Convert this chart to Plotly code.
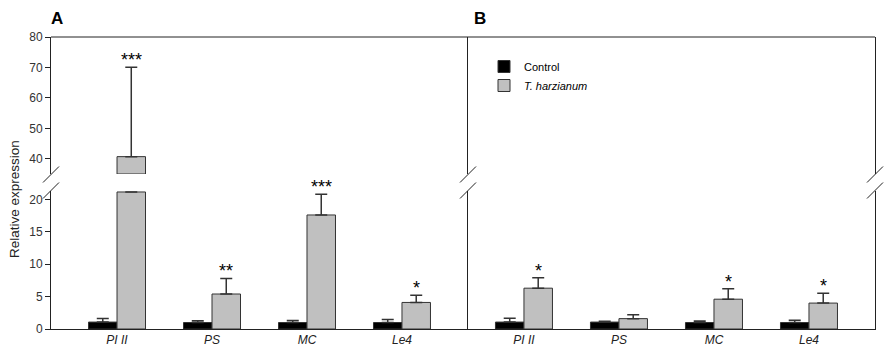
import plotly.graph_objects as go

# ---------------- data ----------------
genes = ["PI II", "PS", "MC", "Le4"]
tick_labels = ["<i>PI II</i>", "<i>PS</i>", "<i>MC</i>", "<i>Le4</i>"]

a_control = [1.07, 1.0, 1.0, 1.0]
a_control_err = [0.55, 0.27, 0.3, 0.45]
a_treat = [40.7, 5.4, 17.6, 4.1]
a_treat_err = [29.4, 2.4, 3.2, 1.1]
a_signif = ["***", "**", "***", "*"]

b_control = [1.07, 1.07, 1.0, 1.0]
b_control_err = [0.6, 0.13, 0.25, 0.35]
b_treat = [6.3, 1.6, 4.6, 4.0]
b_treat_err = [1.6, 0.6, 1.6, 1.5]
b_signif = ["*", "", "*", "*"]

y_lower_ticks = [0, 5, 10, 15, 20]
y_upper_ticks = [40, 50, 60, 70, 80]

# ---------------- layout constants ----------------
# the page body has an 8px default margin; the figure is sized to fit the window
OFF = 8
W, H = 892 - OFF, 354 - OFF
ML, MR, MT, MB = 51 - OFF, 17, 37 - OFF, 25
PW, PH = W - ML - MR, H - MT - MB
LOWER_RANGE = [0, 21.3]
UPPER_RANGE = [35, 80]
LOWER_TOP_PX = 191
UPPER_BOT_PX = 174
SPLIT_PX = 468
LEFT_PX, RIGHT_PX, BASE_PX = 51, 875, 329

def px_x(px):
    return (px - LEFT_PX) / PW

def px_y(py):
    return (BASE_PX - py) / PH

lower_dom = [0, px_y(LOWER_TOP_PX)]
upper_dom = [px_y(UPPER_BOT_PX), 1]

BLACK = "#000000"
GRAY = "#c0c0c0"
EDGE = "#333333"
BAR_W = 0.3

fig = go.Figure()

def add_panel(xa, ylo, yup, ctrl, ctrl_err, treat, treat_err, legend):
    for vals, errs, color, name, off in [
        (ctrl, ctrl_err, BLACK, "Control", -BAR_W),
        (treat, treat_err, GRAY, "<i>T. harzianum</i>", 0.0),
    ]:
        lo_max = LOWER_RANGE[1] - 0.15
        y_lo = [min(v, lo_max) for v in vals]
        e_lo = [e if v <= lo_max else 0 for v, e in zip(vals, errs)]
        fig.add_trace(go.Bar(
            x=genes, y=y_lo, xaxis=xa, yaxis=ylo, name=name,
            marker=dict(color=color, line=dict(color=EDGE, width=1)),
            width=BAR_W, offset=off, showlegend=legend,
            error_y=dict(type="data", symmetric=False, array=e_lo,
                         arrayminus=[0] * len(vals), color=EDGE,
                         thickness=1.5, width=6),
        ))
        # upper segment of the broken axis
        y_up = [v - UPPER_RANGE[0] if v > UPPER_RANGE[0] else None for v in vals]
        e_up = [e if v > UPPER_RANGE[0] else 0 for v, e in zip(vals, errs)]
        fig.add_trace(go.Bar(
            x=genes, y=y_up, base=UPPER_RANGE[0], xaxis=xa, yaxis=yup, name=name,
            marker=dict(color=color, line=dict(color=EDGE, width=1)),
            width=BAR_W, offset=off, showlegend=False,
            error_y=dict(type="data", symmetric=False, array=e_up,
                         arrayminus=[0] * len(vals), color=EDGE,
                         thickness=1.5, width=6),
        ))

add_panel("x", "y", "y2", a_control, a_control_err, a_treat, a_treat_err, False)
add_panel("x2", "y3", "y4", b_control, b_control_err, b_treat, b_treat_err, True)

# significance stars
def add_stars(xa, ylo, yup, vals, errs, sig):
    for g, v, e, s in zip(genes, vals, errs, sig):
        if not s:
            continue
        top = v + e
        yref = yup if top > LOWER_RANGE[1] else ylo
        fig.add_annotation(x=g, y=top, xref=xa, yref=yref, text=s,
                           showarrow=False, xshift=BAR_W * 95 / 2,
                           xanchor="center", yanchor="bottom", yshift=-5,
                           font=dict(family="Liberation Sans, Arial", size=18, color="#000"))

add_stars("x", "y", "y2", a_treat, a_treat_err, a_signif)
add_stars("x2", "y3", "y4", b_treat, b_treat_err, b_signif)

axis_font = dict(family="Liberation Sans, Arial", size=12, color="#333")
common_y = dict(showline=True, linecolor="#222", linewidth=1, showgrid=False,
                zeroline=False, ticks="outside", ticklen=5, tickcolor="#222",
                tickfont=axis_font, automargin=False)
common_x = dict(showline=True, linecolor="#222", linewidth=1, showgrid=False,
                zeroline=False, ticks="", type="category", automargin=False,
                tickvals=genes, ticktext=tick_labels,
                tickfont=dict(family="Liberation Sans, Arial", size=12, color="#222"))

fig.update_layout(
    width=W, height=H,
    margin=dict(l=ML, r=MR, t=MT, b=MB, autoexpand=False),
    paper_bgcolor="white", plot_bgcolor="white",
    barmode="overlay",
    xaxis=dict(domain=[0, px_x(SPLIT_PX)], anchor="y", range=[-0.695, 3.695], **common_x),
    xaxis2=dict(domain=[px_x(SPLIT_PX), 1], anchor="y3", range=[-0.589, 3.695], **common_x),
    yaxis=dict(domain=lower_dom, anchor="x", range=LOWER_RANGE, tickvals=y_lower_ticks, **common_y),
    yaxis2=dict(domain=upper_dom, anchor="x", range=UPPER_RANGE, tickvals=y_upper_ticks, **common_y),
    yaxis3=dict(domain=lower_dom, anchor="x2", range=LOWER_RANGE, showline=True, mirror=True,
                linecolor="#222", linewidth=1, showgrid=False, zeroline=False,
                showticklabels=False, ticks="", automargin=False),
    yaxis4=dict(domain=upper_dom, anchor="x2", range=UPPER_RANGE, showline=True, mirror=True,
                linecolor="#222", linewidth=1, showgrid=False, zeroline=False,
                showticklabels=False, ticks="", automargin=False),
    legend=dict(x=px_x(484), y=px_y(52), xanchor="left", yanchor="top",
                font=dict(family="Liberation Sans, Arial", size=11, color="#000"),
                bgcolor="rgba(0,0,0,0)", tracegroupgap=0),
    showlegend=True,
)

# top frame line
fig.add_shape(type="line", xref="paper", yref="paper", x0=0, x1=1, y0=1, y1=1,
              line=dict(color="#222", width=1))

# axis-break slashes
for bx in [LEFT_PX, SPLIT_PX, RIGHT_PX]:
    for cy in [UPPER_BOT_PX + 0.5, LOWER_TOP_PX - 0.5]:
        fig.add_shape(type="line", xref="paper", yref="paper",
                      x0=px_x(bx - 8), y0=px_y(cy + 8), x1=px_x(bx + 8), y1=px_y(cy - 8),
                      line=dict(color="#222", width=1))

# panel labels and y title
label_font = dict(family="Liberation Sans, Arial", size=17, color="#000")
fig.add_annotation(x=px_x(56.5), y=px_y(19), xref="paper", yref="paper", text="<b>A</b>",
                   xanchor="center", yanchor="middle", showarrow=False, font=label_font)
fig.add_annotation(x=px_x(480), y=px_y(19), xref="paper", yref="paper", text="<b>B</b>",
                   xanchor="center", yanchor="middle", showarrow=False, font=label_font)
fig.add_annotation(x=px_x(14), y=px_y(199), xref="paper", yref="paper", text="Relative expression",
                   textangle=-90, xanchor="center", yanchor="middle", showarrow=False,
                   font=dict(family="Liberation Sans, Arial", size=13.5, color="#222"))

fig.write_html("out.html")
